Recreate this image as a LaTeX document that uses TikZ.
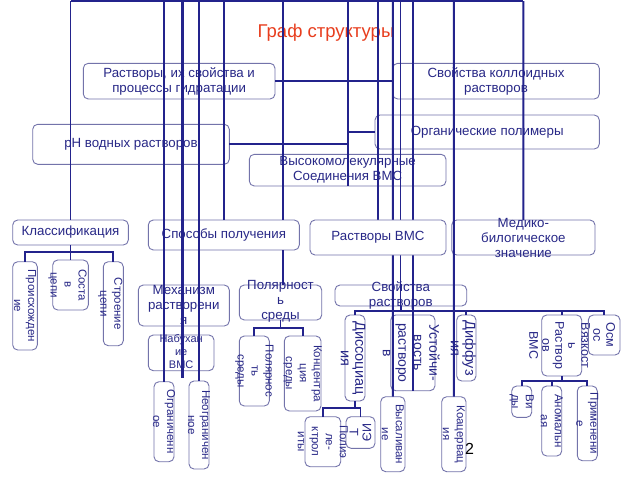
\documentclass[tikz,border=0pt]{standalone}
\usepackage{fontspec}
\setmainfont{Liberation Sans}
\definecolor{lc}{RGB}{35,35,140}
\definecolor{bc}{RGB}{115,115,170}
\definecolor{tc}{RGB}{40,40,135}
\definecolor{ttl}{RGB}{232,62,30}
\pgfdeclarelayer{fg}
\pgfsetlayers{main,fg}
\newcommand\mkbox[6][]{\node[boxst,#1,minimum width={#4-#2},minimum height={#5-#3}] (#6) at ({(#2+#4)/2},{(#3+#5)/2}) {};}
\tikzset{
  boxst/.style={draw=bc, line width=0.9pt, rounded corners=5pt, inner sep=0pt, outer sep=0pt},
  ln/.style={draw=lc, line width=1.8pt},
  tr/.style={draw=lc, line width=1.8pt},
  hx/.style={text=tc, font=\fontsize{13.3}{15}\selectfont, align=center, inner sep=0pt},
  sx/.style={text=tc, font=\fontsize{11}{13}\selectfont, align=center, inner sep=0pt},
  vx/.style={text=tc, font=\fontsize{11.5}{14}\selectfont, align=center, inner sep=0pt, rotate=-90},
  vb/.style={text=tc, font=\fontsize{14.5}{14.5}\selectfont, align=center, inner sep=0pt, rotate=-90},
  vm/.style={text=tc, font=\fontsize{12.5}{13}\selectfont, align=center, inner sep=0pt, rotate=-90},
}
\begin{document}
\begin{tikzpicture}[x=1pt,y=-1pt]
\useasboundingbox (0,0) rectangle (640,480);
\fill[white] (0,0) rectangle (640,480);

% title
\node[text=ttl, font=\fontsize{18.5}{20}\selectfont, inner sep=0pt] (title) at (326,33) {Граф структуры};

% upper boxes
\mkbox{83.3}{63.3}{275}{99}{b1}
\node[hx] (b1t) at (b1.center) {Растворы, их свойства и\\процессы гидратации};
\mkbox{392.7}{63.3}{599.3}{99}{b2}
\node[hx] (b2t) at (b2.center) {Свойства коллоидных\\растворов};
\mkbox{32.7}{124.3}{229.3}{164.3}{ph}
\node[hx] (pht) at (ph.center) {рН водных растворов};
\mkbox{375}{115}{599.3}{149}{org}
\node[hx] (orgt) at (org.center) {Органические полимеры};
\mkbox{249.3}{154.3}{446}{186}{vms}
\node[hx] (vmst) at (vms.center) {Высокомолекулярные\\Соединения ВМС};

% middle row
\mkbox{12.7}{220}{128.3}{245}{cls}
\node[hx] (clst) at (cls.center) {Классификация};
\mkbox{148.3}{220}{299.3}{250}{spos}
\node[hx] (spost) at (spos.center) {Способы получения};
\begin{pgfonlayer}{fg}
\mkbox[fill=white]{310}{220}{446}{255}{rvms}
\node[hx] (rvmst) at (rvms.center) {Растворы ВМС};
\end{pgfonlayer}
\mkbox{451.7}{220}{595}{255}{med}
\node[hx] (medt) at (med.center) {Медико-\\билогическое\\значение};

% classification children
\mkbox{12.7}{261.7}{37.3}{350}{c1}
\node[vx] (c1t) at (c1.center) {Происхожден\\ие};
\mkbox{52.7}{260}{88.3}{310}{c2}
\node[vx] (c2t) at ([xshift=-3pt]c2.center) {Соста\\в\\цепи};
\mkbox{103.3}{261.7}{123.3}{345.7}{c3}
\node[vx] (c3t) at ([xshift=-3pt]c3.center) {Строение\\цепи};

% mechanism
\mkbox{138.3}{285}{229.3}{326}{mex}
\node[hx] (mext) at ([yshift=1pt]mex.center) {Механизм\\растворени\\я};
\mkbox{148.3}{335}{214}{370.7}{nab}
\node[sx] (nabt) at ([yshift=1pt]nab.center) {Набухан\\ие\\ВМС};
\mkbox{154}{381.7}{174}{461.7}{ogr}
\node[vx] (ogrt) at (ogr.center) {Ограниченн\\ое};
\mkbox{189}{381}{209}{469}{neogr}
\node[vx] (neogrt) at (neogr.center) {Неограничен\\ное};

% polarity
\mkbox{239.3}{285}{321.7}{320}{pol}
\node[hx] (polt) at ([yshift=1pt]pol.center) {Полярност\\ь\\среды};
\mkbox{239.3}{336}{269.3}{406}{pc1}
\node[vx] (pc1t) at (pc1.center) {Полярнос\\ть\\среды};
\mkbox{284.3}{336}{321}{411}{pc2}
\node[vx] (pc2t) at (pc2.center) {Концентра\\ция\\среды};

% solution properties
\mkbox{335}{285}{466.7}{306}{ss}
\node[hx] (sst) at (ss.center) {Свойства\\растворов};
\mkbox{345}{315}{365}{401}{d1}
\node[vb] (d1t) at ([xshift=-2pt]d1.center) {Диссоциац\\ия};
\mkbox{390.7}{315}{435}{390.7}{d2}
\node[vx, font=\fontsize{14}{15.5}\selectfont] (d2t) at ([xshift=-1.5pt]d2.center) {Устойчи-\\вость\\растворо\\в};
\mkbox{456.7}{315}{476}{381}{d3}
\node[vb] (d3t) at ([xshift=-3pt]d3.center) {Диффуз\\ия};
\mkbox{541.7}{315}{581.7}{376}{d4}
\node[vm] (d4t) at ([xshift=-2pt]d4.center) {Вязкост\\ь\\Раствор\\ов\\ВМС};
\mkbox{588.3}{315}{620}{355}{d5}
\node[vm] (d5t) at (d5.center) {Осм\\ос};

\mkbox{305}{416.7}{340.7}{466.7}{e1}
\node[vx] (e1t) at (e1.center) {Полиэ\\ле-\\ктрол\\иты};
\mkbox{346}{416.7}{375}{448.3}{e2}
\node[vm] (e2t) at (e2.center) {ИЭ\\Т};
\mkbox{380.7}{396.7}{405}{471.7}{vys}
\node[vx] (vyst) at (vys.center) {Высаливан\\ие};
\mkbox{441.7}{396.7}{466}{471.7}{koa}
\node[vx] (koat) at (koa.center) {Коацервац\\ия};

\mkbox{511.7}{386}{531.7}{417.3}{f1}
\node[vx] (f1t) at (f1.center) {Ви\\ды};
\mkbox{541.7}{386}{561.7}{456}{f2}
\node[vx] (f2t) at (f2.center) {Аномальн\\ая};
\mkbox{577.3}{386}{597.3}{460.7}{f3}
\node[vx] (f3t) at (f3.center) {Применени\\е};

\node[font=\fontsize{16}{18}\selectfont, inner sep=0pt] (pg) at (469.5,449) {2};

% top bus and verticals
\coordinate (v1) at (70.5,1);
\coordinate (v2) at (164,1);
\coordinate (v3) at (181.7,1);
\coordinate (v4) at (183.3,1);
\coordinate (v5) at (199,1);
\coordinate (v6) at (223.8,1);
\coordinate (v7) at (282.7,1);
\coordinate (v8) at (347.65,1);
\coordinate (v9) at (378.3,1);
\coordinate (v10) at (392.85,1);
\coordinate (v11) at (400.5,1);
\coordinate (v12) at (412.7,1);
\coordinate (v13) at (453.85,1);
\coordinate (v14) at (523.35,1);
\coordinate (v3e) at (181.7,378);
\coordinate (v4e) at (183.3,378);

\draw[ln] (v1) -- (v14);
\draw[ln] (v1) -- (cls.north);
\draw[ln] (v2) -- (ogr.north);
\draw[ln] (v3) -- (v3e);
\draw[ln] (v4) -- (v4e);
\draw[ln] (v5) -- (neogr.north);
\draw[ln] (v6) -- (spos.north);
\draw[ln] (v7) -- (v7 |- spos.north);
\draw[ln] (v7 |- spos.south) -- (v7 |- pol.north);
\draw[ln] (v8) -- (vms.south);
\draw[ln] (v9) -- (v9 |- rvms.north);
\draw[ln] (v10) -- (vys.north);
\coordinate (sj) at (400.5,310.7);
\draw[ln] (v11) -- (sj);
\draw[ln] (v12) -- (v12 |- d2.south);
\draw[ln] (v13) -- (koa.north);
\draw[ln] (v14) -- (med.north);

% horizontal links
\draw[ln] (b1.east) -- (b2.west);
\draw[ln] (ph.east) -- (ph.east -| v8);
\draw[ln] (org.west -| v8) -- (org.west);

% classification tree
\coordinate (kj) at (70.5,251.7);
\draw[tr] (cls.south) -- (c2.north);
\draw[tr] (c1.north) |- (kj) -| (c3.north);

% polarity tree
\coordinate (pj) at (281.7,328.3);
\draw[tr] (pol.south) -- (pol.south |- pj);
\draw[tr] (pc1.north) |- (pj) -| (pc2.north);

% solution properties tree
\draw[tr] (d1.north) |- (sj) -| (d5.north);
\draw[tr] (ss.south) -- (ss.south |- sj);
\draw[tr] (d3.north) -- (d3.north |- sj);
\draw[tr] (d4.north) -- (d4.north |- sj);

% dissociation tree
\coordinate (dj) at (356.7,408.3);
\draw[tr] (d1.south) -- (d1.south |- dj);
\draw[tr] (e1.north) |- (dj) -| (e2.north);

% viscosity tree
\coordinate (wj) at (561.7,380.7);
\draw[tr] (d4.south) -- (d4.south |- wj);
\draw[tr] (f1.north) |- (wj) -| (f3.north);
\draw[tr] (f2.north) -- (f2.north |- wj);
\end{tikzpicture}
\end{document}
